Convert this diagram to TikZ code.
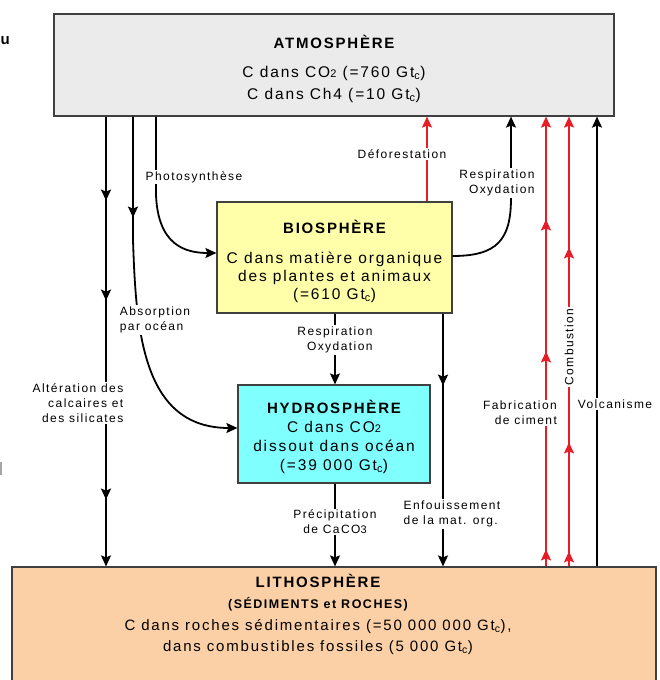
\documentclass[tikz,border=0pt]{standalone}
\usepackage{fontspec}
\setmainfont{Liberation Sans}[LetterSpace=12]
\usetikzlibrary{arrows.meta,decorations.markings}

\definecolor{atmgray}{RGB}{235,235,235}
\definecolor{bioyellow}{RGB}{255,255,170}
\definecolor{hydcyan}{RGB}{128,255,255}
\definecolor{litpeach}{RGB}{252,208,166}
\definecolor{fluxred}{RGB}{232,28,36}
\definecolor{boxline}{RGB}{64,64,64}

\newcommand{\lblfont}{\fontsize{12}{15}\selectfont}
\newcommand{\bodyfont}{\fontsize{15.5}{22}\selectfont}
\newcommand{\headfont}{\bfseries\fontsize{15}{21}\selectfont}
\newcommand{\subheadfont}{\bfseries\fontsize{12.5}{21}\selectfont}
\newcommand{\gtc}{Gt\textsubscript{c}}
\newcommand{\smalldig}[1]{{\fontsize{11}{11}\selectfont #1}}

\tikzset{
  reservoir/.style={draw=boxline, line width=1.2pt, inner sep=0pt},
  boxtxt/.style={align=center, inner sep=0pt, font=\bodyfont},
  flux/.style={line width=1.8pt, >={Stealth[length=11pt,width=10pt,inset=2pt]}},
  lbl/.style={fill=white, inner sep=1.5pt, font=\lblfont},
  headat/.style={postaction={decorate,decoration={markings,mark=at position #1 with {\arrow{>}}}}},
}

\begin{document}
\begin{tikzpicture}[x=1pt,y=-1pt]
	\useasboundingbox (0,0) rectangle (659,680);
	\clip (0,0) rectangle (659,680);

	% reservoirs
	\node[reservoir, fill=atmgray, minimum width=560pt, minimum height=102pt] (atm) at (334,65) {};
	\node[reservoir, fill=bioyellow, minimum width=235pt, minimum height=111pt] (bio) at (334.5,257.5) {};
	\node[reservoir, fill=hydcyan, minimum width=192pt, minimum height=98pt] (hyd) at (334,434) {};
	\node[reservoir, fill=litpeach, minimum width=644pt, minimum height=140pt] (lit) at (334,637) {};

	\node[boxtxt] (atmtxt) at (334,68.5) {{\headfont ATMOSPHÈRE}\\[7pt]C dans CO\smalldig{2} (=760 \gtc)\\C dans Ch4 (=10 \gtc)};
	\node[boxtxt, font=\fontsize{15.5}{18}\selectfont] (biotxt) at (334.5,261.5) {{\headfont BIOSPHÈRE}\\[12pt]C dans matière organique\\des plantes et animaux\\(=610 \gtc)};
	\node[boxtxt, font=\fontsize{15.5}{19}\selectfont] (hydtxt) at (334,437) {{\headfont HYDROSPHÈRE}\\C dans CO\smalldig{2}\\dissout dans océan\\(=39 000 \gtc)};
	\node[boxtxt, font=\fontsize{15}{21}\selectfont] (littxt) at (318,614.5) {{\headfont LITHOSPHÈRE}\\{\subheadfont (SÉDIMENTS et ROCHES)}\\[1pt]C dans roches sédimentaires (=50 000 000 \gtc),\\dans combustibles fossiles (5 000 \gtc)};

	% columns of the fluxes
	\coordinate (colAlt) at (106,0);
	\coordinate (colAbs) at (133,0);
	\coordinate (colPho) at (156,0);
	\coordinate (colMid) at (335,0);
	\coordinate (colDef) at (427,0);
	\coordinate (colEnf) at (443,0);
	\coordinate (colResp) at (511,0);
	\coordinate (colCim) at (546,0);
	\coordinate (colComb) at (569,0);
	\coordinate (colVolc) at (597,0);

	% down from the atmosphere
	\draw[flux, ->, headat=84pt, headat=184pt, headat=383pt] (colAlt |- atm.south) -- (colAlt |- lit.north);
	\node[lbl, align=right] (altlbl) at (78,403) {Altération des\\calcaires et\\des silicates};

	\draw[flux, ->, headat=101pt] (colAbs |- atm.south) -- (133,240) .. controls (136,330) and (142,428) .. ([yshift=6pt]hyd.west);
	\node[lbl, align=left] (abslbl) at (155,320) {Absorption\\par océan};

	\draw[flux, ->] (colPho |- atm.south) -- (156,195) .. controls (158,245) and (185,253) .. ([yshift=4.5pt]bio.west);
	\node[lbl] (pholbl) at (194,177) {Photosynthèse};

	% up to the atmosphere
	\draw[flux, fluxred, ->] (colDef |- bio.north) -- (colDef |- atm.south);
	\node[lbl] (deflbl) at (402,154) {Déforestation};

	\draw[flux, ->] ([yshift=1.5pt]bio.east) .. controls (497,256) and (511,240) .. (511,198) -- (colResp |- atm.south);
	\node[lbl, align=right] (resplbl) at (497,183) {Respiration\\Oxydation};

	\draw[flux, fluxred, ->, headat=17pt, headat=215pt, headat=347pt] (colCim |- lit.north) -- (colCim |- atm.south);
	\node[lbl, align=right] (cimlbl) at (520,413) {Fabrication\\de ciment};

	\draw[flux, fluxred, ->, headat=15pt, headat=124pt, headat=319pt] (colComb |- lit.north) -- (colComb |- atm.south);
	\node[lbl, rotate=90] (comblbl) at (569,347) {Combustion};

	\draw[flux, ->] (colVolc |- lit.north) -- (colVolc |- atm.south);
	\node[lbl] (volclbl) at (615,404) {Volcanisme};

	% between the reservoirs
	\draw[flux, ->] (colMid |- bio.south) -- (colMid |- hyd.north);
	\node[lbl, align=right] (oxylbl) at (335,340) {Respiration\\Oxydation};

	\draw[flux, ->, headat=72pt] (colEnf |- bio.south) -- (colEnf |- lit.north);
	\node[lbl, align=left] (enflbl) at (452,514) {Enfouissement\\de la mat. org.};

	\draw[flux, ->] (colMid |- hyd.south) -- (colMid |- lit.north);
	\node[lbl, align=center] (prelbl) at (335,522) {Précipitation\\de CaCO\smalldig{3}};

	% cut edge of the page
	\node[font=\bfseries\fontsize{15}{15}\selectfont, anchor=base west, inner sep=0pt] (ufrag) at (0.5,44) {u};
	\draw[black!35, line width=1.2pt] (1,462) -- (1,475);
\end{tikzpicture}
\end{document}
